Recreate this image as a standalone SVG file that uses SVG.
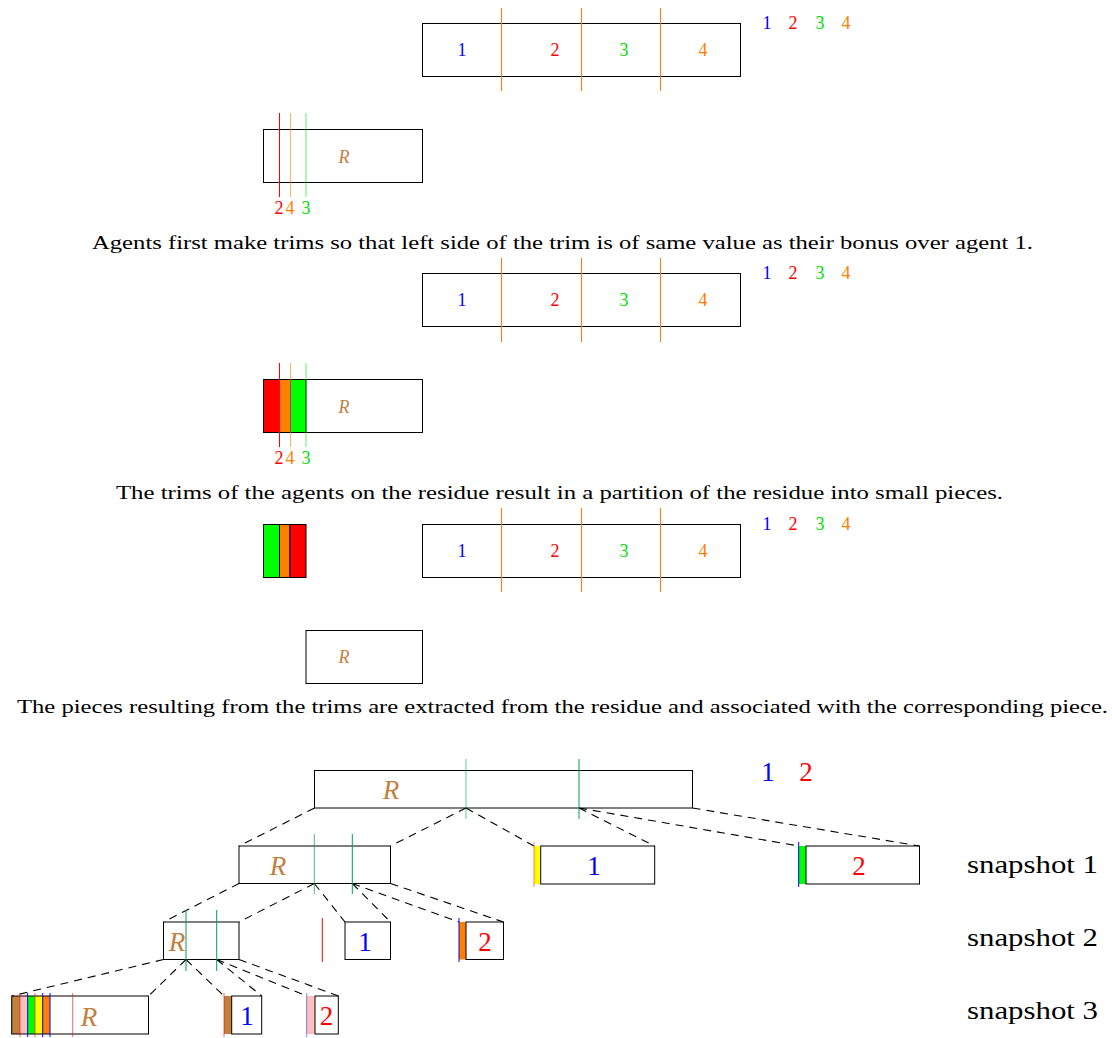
<svg xmlns="http://www.w3.org/2000/svg" width="1112" height="1038" viewBox="0 0 1112 1038">
<style>
.box{fill:none;stroke:#000;stroke-width:1}
.fb{stroke:#000;stroke-width:1}
.cut{stroke:#f08010;stroke-width:1.1}
.dash{fill:none;stroke:#000;stroke-width:1.1;stroke-dasharray:8 6}
.t{font-family:"Liberation Serif","DejaVu Serif",serif}
.s{font-size:18px;text-anchor:middle}
.b{font-size:27px;text-anchor:middle}
.cap{font-size:18px;text-anchor:middle}
.snap{font-size:25px}
.it{font-style:italic;fill:#bf8040}
.blue{fill:#0000ff}.red{fill:#ff0000}.green{fill:#00e000}.orange{fill:#ff8000}
</style>
<rect width="1112" height="1038" fill="#fff"/>

<!-- Section 1 -->
<g id="s1-cake">
<rect class="box" x="422.5" y="23.5" width="318" height="53"/>
<line class="cut" x1="501.5" y1="8" x2="501.5" y2="91"/>
<line class="cut" x1="581.5" y1="8" x2="581.5" y2="91"/>
<line class="cut" x1="660.5" y1="8" x2="660.5" y2="91"/>
<text class="t s blue" x="462" y="56">1</text>
<text class="t s red" x="555" y="56">2</text>
<text class="t s green" x="624" y="56">3</text>
<text class="t s orange" x="703" y="56">4</text>
</g>
<g id="s1-legend">
<text class="t s blue" x="767" y="29">1</text>
<text class="t s red" x="793" y="29">2</text>
<text class="t s green" x="820" y="29">3</text>
<text class="t s orange" x="846" y="29">4</text>
</g>
<g id="s1-residue">
<rect class="box" x="263.5" y="129.5" width="159" height="53"/>
<text class="t s it" x="344" y="163">R</text>
<line x1="279.5" y1="113" x2="279.5" y2="197" stroke="#ff0000"/>
<line x1="290.5" y1="113" x2="290.5" y2="197" stroke="#ff8000" stroke-opacity="0.6"/>
<line x1="306" y1="113" x2="306" y2="197" stroke="#00e000" stroke-opacity="0.6"/>
<text class="t s red" x="279" y="214">2</text>
<text class="t s orange" x="290" y="214">4</text>
<text class="t s green" x="306" y="214">3</text>
</g>
<text class="t cap" x="562.5" y="249" textLength="941" lengthAdjust="spacingAndGlyphs">Agents first make trims so that left side of the trim is of same value as their bonus over agent 1.</text>

<!-- Section 2 -->
<g id="s2-cake">
<rect class="box" x="422.5" y="273.5" width="318" height="53"/>
<line class="cut" x1="501.5" y1="258" x2="501.5" y2="342"/>
<line class="cut" x1="581.5" y1="258" x2="581.5" y2="342"/>
<line class="cut" x1="660.5" y1="258" x2="660.5" y2="342"/>
<text class="t s blue" x="462" y="306">1</text>
<text class="t s red" x="555" y="306">2</text>
<text class="t s green" x="624" y="306">3</text>
<text class="t s orange" x="703" y="306">4</text>
</g>
<g id="s2-legend">
<text class="t s blue" x="767" y="279">1</text>
<text class="t s red" x="793" y="279">2</text>
<text class="t s green" x="820" y="279">3</text>
<text class="t s orange" x="846" y="279">4</text>
</g>
<g id="s2-residue">
<rect class="fb" x="263.5" y="379.5" width="16" height="53" fill="#ff0000"/>
<rect class="fb" x="279.5" y="379.5" width="11" height="53" fill="#ff8000"/>
<rect class="fb" x="290.5" y="379.5" width="15.5" height="53" fill="#00ff00"/>
<rect class="box" x="263.5" y="379.5" width="159" height="53"/>
<text class="t s it" x="344" y="413">R</text>
<line x1="279.5" y1="363" x2="279.5" y2="447" stroke="#ff0000"/>
<line x1="290.5" y1="363" x2="290.5" y2="447" stroke="#ff8000" stroke-opacity="0.6"/>
<line x1="306" y1="363" x2="306" y2="447" stroke="#00e000" stroke-opacity="0.6"/>
<text class="t s red" x="279" y="464">2</text>
<text class="t s orange" x="290" y="464">4</text>
<text class="t s green" x="306" y="464">3</text>
</g>
<text class="t cap" x="559.5" y="499" textLength="887" lengthAdjust="spacingAndGlyphs">The trims of the agents on the residue result in a partition of the residue into small pieces.</text>

<!-- Section 3 -->
<g id="s3-cake">
<rect class="box" x="422.5" y="524.5" width="318" height="53"/>
<line class="cut" x1="501.5" y1="508" x2="501.5" y2="592"/>
<line class="cut" x1="581.5" y1="508" x2="581.5" y2="592"/>
<line class="cut" x1="660.5" y1="508" x2="660.5" y2="592"/>
<text class="t s blue" x="462" y="557">1</text>
<text class="t s red" x="555" y="557">2</text>
<text class="t s green" x="624" y="557">3</text>
<text class="t s orange" x="703" y="557">4</text>
</g>
<g id="s3-legend">
<text class="t s blue" x="767" y="530">1</text>
<text class="t s red" x="793" y="530">2</text>
<text class="t s green" x="820" y="530">3</text>
<text class="t s orange" x="846" y="530">4</text>
</g>
<g id="s3-pieces">
<rect class="fb" x="263.5" y="524.5" width="16" height="53" fill="#00ff00"/>
<rect class="fb" x="279.5" y="524.5" width="10.5" height="53" fill="#ff8000"/>
<rect class="fb" x="290" y="524.5" width="16" height="53" fill="#ff0000"/>
</g>
<g id="s3-residue">
<rect class="box" x="306" y="630.5" width="116.5" height="53"/>
<text class="t s it" x="344" y="663">R</text>
</g>
<text class="t cap" x="562.5" y="713" textLength="1091" lengthAdjust="spacingAndGlyphs">The pieces resulting from the trims are extracted from the residue and associated with the corresponding piece.</text>

<!-- Tree -->
<g id="connectors">
<path class="dash" d="M314.5 808 L239 846"/>
<path class="dash" d="M466 808 L390.5 846"/>
<path class="dash" d="M466 808 L534 846"/>
<path class="dash" d="M579 808 L654.5 846"/>
<path class="dash" d="M579 808 L798.7 846"/>
<path class="dash" d="M692.5 808 L919.5 846"/>
<path class="dash" d="M239 883.5 L163.5 922"/>
<path class="dash" d="M314.3 883.5 L239 922"/>
<path class="dash" d="M314.3 883.5 L345 922"/>
<path class="dash" d="M352.3 883.5 L390.5 922"/>
<path class="dash" d="M352.3 883.5 L459 922"/>
<path class="dash" d="M390.5 883.5 L503.5 922"/>
<path class="dash" d="M163.5 959.5 L11.7 996"/>
<path class="dash" d="M186 959.5 L148.5 996"/>
<path class="dash" d="M186 959.5 L224 996"/>
<path class="dash" d="M216.7 959.5 L261.7 996"/>
<path class="dash" d="M216.7 959.5 L306.7 996"/>
<path class="dash" d="M239 959.5 L338.5 996"/>
</g>

<g id="root">
<rect class="box" x="314.5" y="770.5" width="378" height="37.5"/>
<text class="t b it" x="391" y="799">R</text>
<line x1="466" y1="759" x2="466" y2="819" stroke="#00a050" stroke-opacity="0.6"/>
<line x1="579" y1="759" x2="579" y2="819" stroke="#00a050"/>
</g>
<g id="legend-tree">
<text class="t b blue" x="768" y="781">1</text>
<text class="t b red" x="806" y="781">2</text>
</g>

<g id="snap1-residue">
<rect class="box" x="239" y="846" width="151.5" height="37.5"/>
<text class="t b it" x="278" y="875">R</text>
<line x1="314.3" y1="834" x2="314.3" y2="894" stroke="#00a050" stroke-opacity="0.7"/>
<line x1="352.3" y1="834" x2="352.3" y2="894" stroke="#00a050"/>
</g>
<g id="snap1-piece1">
<rect x="534" y="846" width="6.7" height="38" fill="#ffff00"/>
<line x1="534" y1="842" x2="534" y2="887" stroke="#ff0000" stroke-opacity="0.5"/>
<rect class="box" x="540.7" y="846" width="114" height="38"/>
<text class="t b blue" x="594" y="875">1</text>
</g>
<g id="snap1-piece2">
<rect x="798.7" y="846" width="7.3" height="38" fill="#00ff00"/>
<line x1="798.7" y1="842" x2="798.7" y2="887" stroke="#0000ff"/>
<rect class="box" x="806" y="846" width="113.5" height="38"/>
<text class="t b red" x="859" y="875">2</text>
</g>
<text class="t snap" x="967" y="873" textLength="131" lengthAdjust="spacingAndGlyphs">snapshot 1</text>

<g id="snap2-residue">
<rect class="box" x="163.5" y="922" width="75.5" height="37.5"/>
<text class="t b it" x="177" y="951">R</text>
<line x1="186" y1="910" x2="186" y2="971" stroke="#00a050"/>
<line x1="216.7" y1="910" x2="216.7" y2="971" stroke="#00a050"/>
</g>
<g id="snap2-cut">
<line x1="322.3" y1="918" x2="322.3" y2="962" stroke="#ff0000"/>
</g>
<g id="snap2-piece1">
<rect class="box" x="345" y="922" width="45.5" height="37.5"/>
<text class="t b blue" x="365" y="951">1</text>
</g>
<g id="snap2-piece2">
<rect x="459" y="922" width="7" height="37.5" fill="#ff8000"/>
<line x1="459" y1="918" x2="459" y2="962" stroke="#0000ff"/>
<rect class="box" x="466" y="922" width="37.5" height="37.5"/>
<text class="t b red" x="485" y="951">2</text>
</g>
<text class="t snap" x="967" y="946" textLength="131" lengthAdjust="spacingAndGlyphs">snapshot 2</text>

<g id="snap3-residue">
<rect x="11.7" y="996" width="8.3" height="38" fill="#bf8040"/>
<rect x="20" y="996" width="7.7" height="38" fill="#ffbfbf"/>
<rect x="27.7" y="996" width="7.3" height="38" fill="#00ff00"/>
<rect x="35" y="996" width="7.7" height="38" fill="#ffff00"/>
<rect x="42.7" y="996" width="7.3" height="38" fill="#ff8000"/>
<rect class="box" x="11.7" y="996" width="136.8" height="38"/>
<line x1="20" y1="993" x2="20" y2="1037" stroke="#ff0000" stroke-opacity="0.6"/>
<line x1="27.7" y1="993" x2="27.7" y2="1037" stroke="#0000ff"/>
<line x1="35" y1="993" x2="35" y2="1037" stroke="#ff0000" stroke-opacity="0.6"/>
<line x1="42.7" y1="993" x2="42.7" y2="1037" stroke="#0000ff"/>
<line x1="50" y1="993" x2="50" y2="1037" stroke="#0000ff"/>
<line x1="72.7" y1="993" x2="72.7" y2="1037" stroke="#ff0000" stroke-opacity="0.6"/>
<text class="t b it" x="89" y="1026">R</text>
</g>
<g id="snap3-piece1">
<rect x="224" y="996" width="7.7" height="38" fill="#bf8040"/>
<line x1="224" y1="993" x2="224" y2="1037" stroke="#ff0000" stroke-opacity="0.6"/>
<rect class="box" x="231.7" y="996" width="30" height="38"/>
<text class="t b blue" x="247" y="1025">1</text>
</g>
<g id="snap3-piece2">
<rect x="306.7" y="996" width="8.3" height="38" fill="#ffbfbf"/>
<line x1="306.7" y1="993" x2="306.7" y2="1037" stroke="#0000ff" stroke-opacity="0.5"/>
<rect class="box" x="315" y="996" width="23.3" height="38"/>
<text class="t b red" x="326.5" y="1025">2</text>
</g>
<text class="t snap" x="967" y="1019" textLength="131" lengthAdjust="spacingAndGlyphs">snapshot 3</text>
</svg>
